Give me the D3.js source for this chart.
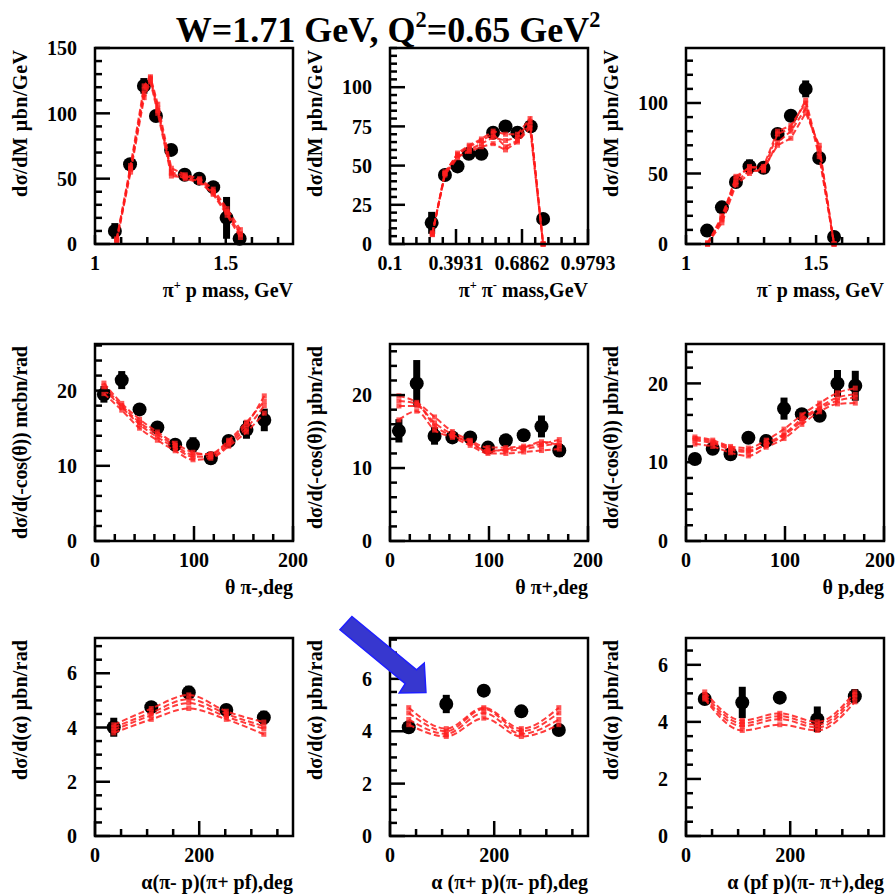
<!DOCTYPE html>
<html>
<head>
<meta charset="utf-8">
<script src="https://cdn.jsdelivr.net/npm/d3@7"></script>
<style>
  html, body { margin: 0; padding: 0; background: #fff; }
  svg text { font-family: "Liberation Serif", "Times New Roman", serif; font-weight: bold; fill: #000; }
</style>
</head>
<body>
<svg id="chart" width="896" height="896"></svg>
<script>
// ---------------- measured cross sections ----------------
// pi+ p invariant mass
const mPipP_x   = [1.076, 1.134, 1.187, 1.233, 1.291, 1.343, 1.398, 1.452, 1.503, 1.553];
const mPipP_y   = [10, 61, 121, 98, 72, 53, 50, 43.5, 20, 4];
const mPipP_err = [6, 3, 6, 3, 3, 3, 3, 3, 16, 4];
const mPipP_modelX = [1.083, 1.136, 1.188, 1.212, 1.240, 1.292, 1.345, 1.400, 1.452, 1.505, 1.556];
const mPipP_model = [
  [3, 58, 118, 127, 104, 55, 52, 49, 40, 25, 8],
  [2, 55, 112, 124, 100, 52, 51, 48, 38, 22, 5],
  [4, 60, 121, 128, 107, 58, 53, 50, 42, 27, 11],
  [3, 57, 115, 126, 102, 54, 50, 47, 39, 24, 7]
];

// pi+ pi- invariant mass
const mPipPim_x   = [0.285, 0.344, 0.400, 0.450, 0.506, 0.558, 0.613, 0.666, 0.725, 0.780];
const mPipPim_y   = [13.5, 44, 49.5, 57.5, 57.5, 71, 75, 71, 75, 16];
const mPipPim_err = [7, 3, 3, 3, 3, 3, 3, 3, 3, 3];
const mPipPim_modelX = [0.288, 0.344, 0.400, 0.452, 0.506, 0.558, 0.613, 0.666, 0.722, 0.780];
const mPipPim_model = [
  [6, 45, 58, 63, 67, 72, 70, 70, 80, 0],
  [7, 44, 55, 60, 64, 68, 66, 68, 78, 0],
  [6, 46, 57, 62, 66, 70, 62, 66, 76, 0],
  [7, 45, 56, 59, 62, 64, 60, 65, 74, 0]
];

// pi- p invariant mass
const mPimP_x   = [1.081, 1.138, 1.192, 1.244, 1.298, 1.352, 1.403, 1.460, 1.512, 1.569];
const mPimP_y   = [9.5, 26, 44, 55, 54, 78, 91, 110, 61, 5];
const mPimP_err = [4, 3, 3, 5, 3, 3, 3, 6, 3, 2];
const mPimP_modelX = [1.083, 1.138, 1.192, 1.244, 1.298, 1.352, 1.403, 1.460, 1.512, 1.569];
const mPimP_model = [
  [0, 20, 46, 55, 53, 78, 82, 102, 65, 0],
  [0, 17, 44, 52, 52, 72, 80, 96, 68, 0],
  [0, 15, 42, 50, 54, 70, 75, 93, 70, 0],
  [1, 18, 48, 54, 55, 80, 84, 100, 62, 0]
];

// polar angle bins (deg)
const thetaBins = [9, 27, 45, 63, 81, 99, 117, 135, 153, 171];

const thPim_y   = [19.5, 21.4, 17.5, 15.1, 12.8, 12.8, 11.0, 13.3, 14.8, 16.1];
const thPim_err = [1.1, 1.2, 0.6, 0.6, 0.6, 1.0, 0.6, 0.6, 1.2, 1.5];
const thPim_model = [
  [21.0, 18.3, 16.2, 14.5, 13.0, 11.8, 11.5, 13.2, 15.5, 19.3],
  [20.2, 17.8, 15.5, 13.8, 12.4, 11.2, 11.2, 12.9, 15.0, 18.0],
  [19.6, 17.4, 15.0, 13.4, 12.0, 10.8, 11.0, 12.6, 14.5, 17.0],
  [20.6, 18.0, 15.8, 14.2, 12.7, 11.5, 11.6, 13.4, 15.8, 18.6]
];

const thPip_y   = [15.1, 21.6, 14.4, 14.2, 14.2, 12.8, 13.8, 14.5, 15.7, 12.4];
const thPip_err = [1.6, 3.2, 1.2, 0.6, 0.6, 0.6, 0.6, 0.6, 1.5, 0.9];
const thPip_model = [
  [19.9, 19.0, 17.0, 15.0, 13.8, 12.8, 12.8, 13.0, 13.3, 13.9],
  [18.5, 18.5, 16.2, 14.6, 13.4, 12.4, 12.4, 12.6, 13.0, 13.4],
  [16.6, 17.8, 15.2, 14.2, 13.1, 12.0, 12.0, 12.2, 12.4, 12.6],
  [19.2, 18.8, 15.8, 14.4, 13.6, 12.2, 12.6, 12.8, 13.6, 13.1]
];

const thP_y   = [10.4, 11.7, 11.0, 13.1, 12.7, 16.8, 16.1, 15.9, 20.0, 19.7];
const thP_err = [0.4, 0.6, 0.6, 0.5, 0.6, 1.4, 0.6, 0.7, 1.7, 1.9];
const thP_model = [
  [13.2, 12.8, 12.0, 11.8, 12.8, 14.2, 16.0, 17.5, 18.8, 19.4],
  [12.8, 12.4, 11.6, 11.3, 12.4, 13.6, 15.5, 17.0, 18.2, 18.6],
  [12.3, 12.0, 11.2, 10.8, 11.9, 13.0, 14.8, 16.4, 17.4, 17.5],
  [13.0, 12.6, 11.8, 11.5, 12.2, 13.4, 15.2, 16.8, 17.8, 18.2]
];

// alpha angle bins (deg)
const alphaBins = [36, 108, 180, 252, 324];

const al1_y   = [4.01, 4.75, 5.29, 4.65, 4.37];
const al1_err = [0.35, 0.2, 0.25, 0.2, 0.25];
const al1_model = [
  [4.1, 4.7, 5.2, 4.6, 4.2],
  [4.0, 4.55, 5.05, 4.5, 4.05],
  [3.9, 4.45, 4.9, 4.4, 3.95],
  [3.8, 4.3, 4.7, 4.3, 3.75]
];

const al2_y   = [4.15, 5.04, 5.55, 4.76, 4.05];
const al2_err = [0.1, 0.35, 0.1, 0.1, 0.1];
const al2_model = [
  [4.9, 4.1, 4.9, 4.1, 4.9],
  [4.7, 4.0, 4.85, 4.0, 4.7],
  [4.45, 3.9, 4.7, 3.9, 4.45],
  [4.25, 3.8, 4.5, 3.8, 4.25]
];

const al3_y   = [4.8, 4.68, 4.85, 4.09, 4.9];
const al3_err = [0.2, 0.55, 0.15, 0.45, 0.25];
const al3_model = [
  [5.05, 4.05, 4.3, 4.0, 5.05],
  [4.95, 3.95, 4.2, 3.9, 4.95],
  [4.85, 3.85, 4.1, 3.8, 4.85],
  [4.8, 3.7, 3.9, 3.7, 4.7]
];

// ---------------- axis tick labels ----------------
const xTicksMass   = [1, 1.5];
const xTicksPiPi   = [0.1, 0.3931, 0.6862, 0.9793];
const xTicksTheta  = [0, 100, 200];
const xTicksAlpha  = [0, 200];
const yTicksPipP   = [0, 50, 100, 150];
const yTicksPiPi   = [0, 25, 50, 75, 100];
const yTicksPimP   = [0, 50, 100];
const yTicksTheta  = [0, 10, 20];
const yTicksAlpha  = [0, 2, 4, 6];

const titleText = "W=1.71 GeV, Q^{2}=0.65 GeV^{2}";

// ---------------- layout ----------------
const svg = d3.select("#chart");
const svgW = 896;
const colLeft = [95, 390, 686];
const rowTop = [48, 344, 638];
const frameW = 198;
const rowH = [196, 197, 198];
const labelSize = 20;

const panels = [
  { r: 0, c: 0, xs: mPipP_x, ys: mPipP_y, errs: mPipP_err, mx: mPipP_modelX, model: mPipP_model,
    xDom: [1, 1.757], yDom: [0, 150], xMaj: xTicksMass, xMinStep: 0.1, yMaj: yTicksPipP, yMinStep: 10,
    xFmt: d3.format("~g"), smooth: false, xMajLen: 9, yTitleLen: 147,
    yTitle: "dσ/dM μbn/GeV", xTitle: "π^{+} p mass, GeV" },
  { r: 0, c: 1, xs: mPipPim_x, ys: mPipPim_y, errs: mPipPim_err, mx: mPipPim_modelX, model: mPipPim_model,
    xDom: [0.1, 0.9793], yDom: [0, 125], xMaj: xTicksPiPi, xMinStep: 0.2931 / 5, yMaj: yTicksPiPi, yMinStep: 5,
    xFmt: d => String(d), smooth: false, xMajLen: 15, yTitleLen: 147,
    yTitle: "dσ/dM μbn/GeV", xTitle: "π^{+} π^{-} mass,GeV" },
  { r: 0, c: 2, xs: mPimP_x, ys: mPimP_y, errs: mPimP_err, mx: mPimP_modelX, model: mPimP_model,
    xDom: [1, 1.761], yDom: [0, 139], xMaj: xTicksMass, xMinStep: 0.1, yMaj: yTicksPimP, yMinStep: 10,
    xFmt: d3.format("~g"), smooth: false, xMajLen: 9, yTitleLen: 147,
    yTitle: "dσ/dM μbn/GeV", xTitle: "π^{-} p mass, GeV" },
  { r: 1, c: 0, xs: thetaBins, ys: thPim_y, errs: thPim_err, mx: thetaBins, model: thPim_model,
    xDom: [0, 200], yDom: [0, 26.2], xMaj: xTicksTheta, xMinStep: 20, yMaj: yTicksTheta, yMinStep: 2,
    xFmt: d3.format("d"), smooth: true, xMajLen: 15, yTitleLen: 193,
    yTitle: "dσ/d(-cos(θ)) mcbn/rad", xTitle: "θ π-,deg" },
  { r: 1, c: 1, xs: thetaBins, ys: thPip_y, errs: thPip_err, mx: thetaBins, model: thPip_model,
    xDom: [0, 200], yDom: [0, 27], xMaj: xTicksTheta, xMinStep: 20, yMaj: yTicksTheta, yMinStep: 2,
    xFmt: d3.format("d"), smooth: true, xMajLen: 15, yTitleLen: 183,
    yTitle: "dσ/d(-cos(θ)) μbn/rad", xTitle: "θ π+,deg" },
  { r: 1, c: 2, xs: thetaBins, ys: thP_y, errs: thP_err, mx: thetaBins, model: thP_model,
    xDom: [0, 200], yDom: [0, 25], xMaj: xTicksTheta, xMinStep: 20, yMaj: yTicksTheta, yMinStep: 2,
    xFmt: d3.format("d"), smooth: true, xMajLen: 15, yTitleLen: 183,
    yTitle: "dσ/d(-cos(θ)) μbn/rad", xTitle: "θ p,deg" },
  { r: 2, c: 0, xs: alphaBins, ys: al1_y, errs: al1_err, mx: alphaBins, model: al1_model,
    xDom: [0, 380], yDom: [0, 7.3], xMaj: xTicksAlpha, xMinStep: 50, yMaj: yTicksAlpha, yMinStep: 0.5,
    xFmt: d3.format("d"), smooth: true, xMajLen: 15, yTitleLen: 140,
    yTitle: "dσ/d(α) μbn/rad", xTitle: "α(π- p)(π+ pf),deg" },
  { r: 2, c: 1, xs: alphaBins, ys: al2_y, errs: al2_err, mx: alphaBins, model: al2_model,
    xDom: [0, 380], yDom: [0, 7.56], xMaj: xTicksAlpha, xMinStep: 50, yMaj: yTicksAlpha, yMinStep: 0.5,
    xFmt: d3.format("d"), smooth: true, xMajLen: 15, yTitleLen: 140,
    yTitle: "dσ/d(α) μbn/rad", xTitle: "α (π+ p)(π- pf),deg" },
  { r: 2, c: 2, xs: alphaBins, ys: al3_y, errs: al3_err, mx: alphaBins, model: al3_model,
    xDom: [0, 380], yDom: [0, 6.94], xMaj: xTicksAlpha, xMinStep: 50, yMaj: yTicksAlpha, yMinStep: 0.5,
    xFmt: d3.format("d"), smooth: true, xMajLen: 15, yTitleLen: 140,
    yTitle: "dσ/d(α) μbn/rad", xTitle: "α (pf p)(π- π+),deg" }
];

// writes "a^{b}c" style strings as tspans with raised superscripts
function richText(sel, str, size) {
  const parts = str.split(/\^\{([^}]*)\}/);
  const rise = size * 0.42;
  let raised = false;
  parts.forEach((p, i) => {
    if (p === "") { return; }
    const isSup = i % 2 === 1;
    const t = sel.append("tspan").text(p);
    if (isSup) {
      t.attr("font-size", size * 0.62).attr("dy", -rise);
      raised = true;
    } else {
      t.attr("font-size", size);
      if (raised) { t.attr("dy", rise); raised = false; }
    }
  });
}

const scalesByPanel = [];

panels.forEach(p => {
  const left = colLeft[p.c], top = rowTop[p.r], h = rowH[p.r];
  const bottom = top + h, right = left + frameW;
  const x = d3.scaleLinear().domain(p.xDom).range([left, right]);
  const y = d3.scaleLinear().domain(p.yDom).range([bottom, top]);
  scalesByPanel.push({ x, y });
  const g = svg.append("g");

  // measured points: thick error bars and filled circles
  const idx = d3.range(p.xs.length);
  g.selectAll("rect.err").data(idx).join("rect")
    .attr("x", i => x(p.xs[i]) - 3.5)
    .attr("y", i => y(p.ys[i] + p.errs[i]))
    .attr("width", 7)
    .attr("height", i => y(Math.max(p.yDom[0], p.ys[i] - p.errs[i])) - y(p.ys[i] + p.errs[i]))
    .attr("fill", "#000");
  g.selectAll("circle.pt").data(idx).join("circle")
    .attr("cx", i => x(p.xs[i]))
    .attr("cy", i => y(p.ys[i]))
    .attr("r", 7)
    .attr("fill", "#000");

  // model curves: dashed red lines with small markers at each node
  const line = d3.line()
    .x((d, i) => x(p.mx[i]))
    .y(d => y(d))
    .curve(p.smooth ? d3.curveMonotoneX : d3.curveLinear);
  p.model.forEach(curve => {
    g.append("path")
      .attr("d", line(curve))
      .attr("fill", "none")
      .attr("stroke", "#ff1a1a")
      .attr("stroke-opacity", 0.85)
      .attr("stroke-width", 2)
      .attr("stroke-dasharray", "6,3");
    g.selectAll(null).data(curve).join("rect")
      .attr("x", (d, i) => x(p.mx[i]) - 2.5)
      .attr("y", d => y(d) - 2.5)
      .attr("width", 5)
      .attr("height", 5)
      .attr("fill", "#ff2020")
      .attr("fill-opacity", 0.75);
  });

  // ticks (inside the frame, left and bottom)
  const eps = 1e-6;
  const isMaj = (v, list) => list.some(m => Math.abs(m - v) < 1e-4);
  const yTicks = d3.range(p.yDom[0], p.yDom[1] + eps, p.yMinStep);
  g.selectAll("line.yt").data(yTicks).join("line")
    .attr("x1", left).attr("x2", v => left + (isMaj(v, p.yMaj) ? 15 : 7))
    .attr("y1", v => y(v)).attr("y2", v => y(v))
    .attr("stroke", "#000").attr("stroke-width", 2.5);
  const xTicks = d3.range(p.xDom[0], p.xDom[1] + 1e-3, p.xMinStep);
  g.selectAll("line.xt").data(xTicks).join("line")
    .attr("x1", v => x(v)).attr("x2", v => x(v))
    .attr("y1", bottom).attr("y2", v => bottom - (isMaj(v, p.xMaj) ? p.xMajLen : 7))
    .attr("stroke", "#000").attr("stroke-width", 2.5);

  // frame
  g.append("rect")
    .attr("x", left).attr("y", top).attr("width", frameW).attr("height", h)
    .attr("fill", "none").attr("stroke", "#000").attr("stroke-width", 2.5);

  // tick labels
  g.selectAll("text.yl").data(p.yMaj).join("text")
    .attr("x", left - 18).attr("y", v => y(v)).attr("dy", "0.36em")
    .attr("text-anchor", "end").attr("font-size", labelSize)
    .text(v => String(v));
  g.selectAll("text.xl").data(p.xMaj).join("text")
    .attr("x", v => x(v)).attr("y", bottom + 26)
    .attr("text-anchor", "middle").attr("font-size", labelSize)
    .text(v => p.xFmt(v))
    .each(function () {
      // keep labels at the right border inside the page
      const bb = this.getBBox();
      const over = bb.x + bb.width - (svgW - 1);
      if (over > 0) { d3.select(this).attr("x", +d3.select(this).attr("x") - over); }
    });

  // axis titles, aligned to the axis ends
  g.append("text")
    .attr("transform", `translate(${left - 68},${top + 2}) rotate(-90)`)
    .attr("text-anchor", "end").attr("font-size", labelSize)
    .attr("textLength", p.yTitleLen)
    .text(p.yTitle);
  const xt = g.append("text")
    .attr("x", right).attr("y", bottom + 53)
    .attr("text-anchor", "end");
  richText(xt, p.xTitle, labelSize);
});

// title
const title = svg.append("text")
  .attr("x", 388).attr("y", 42)
  .attr("text-anchor", "middle");
richText(title, titleText, 36);

// blue arrow pointing at the alpha(pi+ p)(pi- pf) panel
const s8 = scalesByPanel[7];
const tipX = s8.x(69), tipY = s8.y(5.48);
const arrowShape = [[-74, -76], [-9.4, -22.7], [-1.7, -29.4], [0, 0], [-26.7, 0.6], [-20.7, -8.7], [-86, -62.7]];
svg.append("polygon")
  .attr("points", arrowShape.map(([dx, dy]) => `${tipX + dx},${tipY + dy}`).join(" "))
  .attr("fill", "#3737cf")
  .attr("stroke", "#1e1eff")
  .attr("stroke-width", 1.5)
  .attr("stroke-linejoin", "miter");
</script>
</body>
</html>
